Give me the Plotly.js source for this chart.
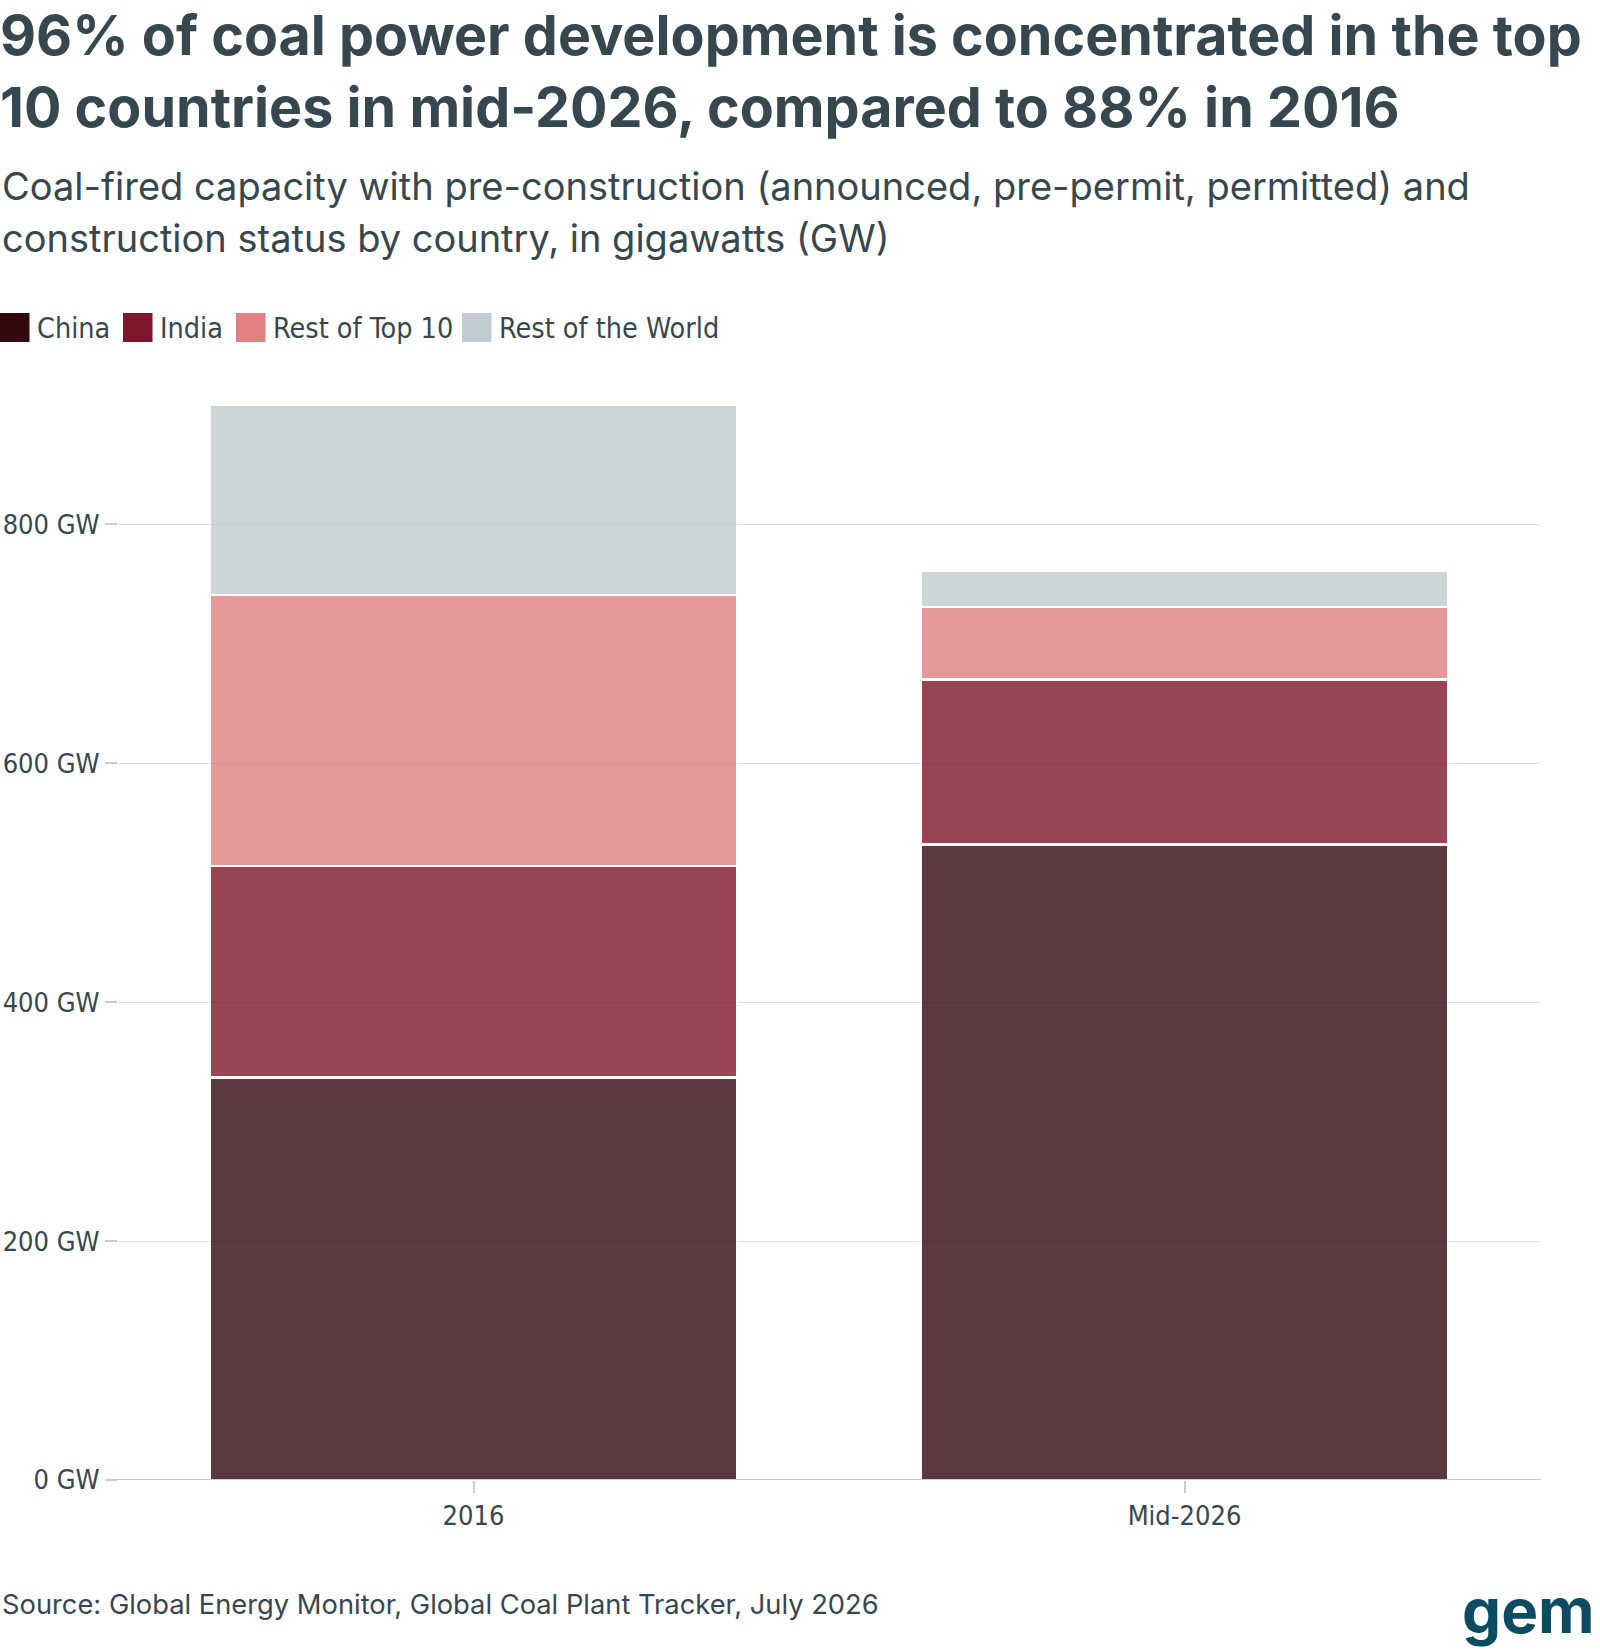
<!DOCTYPE html>
<html>
<head>
<meta charset="utf-8">
<script src="https://cdn.plot.ly/plotly-3.0.1.min.js"></script>
<style>html,body{margin:0;padding:0;background:#fff;}#chart{width:1600px;height:1650px;}</style>
</head>
<body>
<div id="chart"></div>
<script>
// ---- data ----
const categories = ["2016", "Mid-2026"];
const china = [337, 532];
const india = [177, 138];
const restTop10 = [227, 61];
const restWorld = [159, 30];
const seriesNames = ["China", "India", "Rest of Top 10", "Rest of the World"];
const seriesColors = ["#33080f", "#7f1629", "#e08080", "#c0ccd0"];
const yTickVals = [0, 200, 400, 600, 800];
const yTickText = ["0 GW", "200 GW", "400 GW", "600 GW", "800 GW"];

const W = 1600, H = 1650;
const M = {l: 118, r: 60, t: 405, b: 170};
const plotW = W - M.l - M.r, plotH = H - M.t - M.b;
const px2x = p => (p - M.l) / plotW;
const py2y = p => (H - M.b - p) / plotH;

const textColor = "#37474f";
const condensed = "'DejaVu Sans Condensed', 'Liberation Sans Narrow', Roboto, sans-serif";
const sans = "Inter, 'Noto Sans', sans-serif";

const values = [china, india, restTop10, restWorld];
const traces = values.map((v, i) => ({
  type: "bar",
  name: seriesNames[i],
  x: categories,
  y: v,
  marker: {color: seriesColors[i], opacity: 0.8, line: {color: "#ffffff", width: 2.5}},
  showlegend: false,
  hovertemplate: "%{x}: %{y} GW<extra>" + seriesNames[i] + "</extra>"
}));

// custom legend (big squares)
const legendX = [0, 123, 236, 462];
const shapes = [];
const annotations = [];
seriesNames.forEach((n, i) => {
  shapes.push({type: "rect", xref: "paper", yref: "paper",
    x0: px2x(legendX[i]), x1: px2x(legendX[i] + 29.5),
    y0: py2y(342), y1: py2y(313),
    fillcolor: seriesColors[i], line: {width: 0}});
  annotations.push({xref: "paper", yref: "paper", x: px2x(legendX[i] + 35), y: py2y(329),
    xanchor: "left", yanchor: "middle", showarrow: false, text: n,
    font: {family: condensed, size: 28.5, color: textColor}});
});
// baseline
shapes.push({type: "line", xref: "paper", yref: "y", x0: px2x(105), x1: px2x(1541), y0: 0, y1: 0,
  line: {color: "#cccccc", width: 2}});

const subtitleLines = ["Coal-fired capacity with pre-construction (announced, pre-permit, permitted) and",
  "construction status by country, in gigawatts (GW)"];
subtitleLines.forEach((t, i) => {
  annotations.push({xref: "paper", yref: "paper", x: px2x(0), y: py2y(161 + 52 * i), xanchor: "left", yanchor: "top",
    align: "left", showarrow: false, text: t,
    font: {family: sans, size: 38, color: textColor}});
});
annotations.push({xref: "paper", yref: "paper", x: px2x(0), y: py2y(1604), xanchor: "left", yanchor: "middle",
  showarrow: false, text: "Source: Global Energy Monitor, Global Coal Plant Tracker, July 2026",
  font: {family: sans, size: 27.3, color: textColor}});
annotations.push({xref: "paper", yref: "paper", x: px2x(1597), y: py2y(1610), xanchor: "right", yanchor: "middle",
  showarrow: false, text: "<b>gem</b>",
  font: {family: sans, size: 62, color: "#0d4b63", weight: 800}});

const layout = {
  width: W, height: H,
  margin: M,
  paper_bgcolor: "#ffffff", plot_bgcolor: "#ffffff",
  barmode: "stack", bargap: 0.259,
  title: {text: "96% of coal power development is concentrated in the top<br>10 countries in mid-2026, compared to 88% in 2016",
    x: 0, xref: "container", xanchor: "left", y: 1, yref: "container", yanchor: "top", pad: {t: 55},
    font: {family: sans, size: 55.6, color: textColor, weight: 700}},
  xaxis: {type: "category", range: [-0.5, 1.5], showgrid: false, showline: false, zeroline: false,
    ticks: "outside", ticklen: 12, tickwidth: 1.5, tickcolor: "#cccccc",
    tickfont: {family: condensed, size: 27, color: textColor}},
  yaxis: {range: [0, 900], tickvals: yTickVals, ticktext: yTickText, showgrid: true, gridcolor: "#dddddd", gridwidth: 1,
    zeroline: false, showline: false, ticks: "outside", ticklen: 12, tickwidth: 2, tickcolor: "#cccccc",
    tickfont: {family: condensed, size: 27, color: textColor}},
  shapes: shapes,
  annotations: annotations,
  showlegend: false
};

Plotly.newPlot("chart", traces, layout, {displayModeBar: false, responsive: false});
</script>
</body>
</html>
